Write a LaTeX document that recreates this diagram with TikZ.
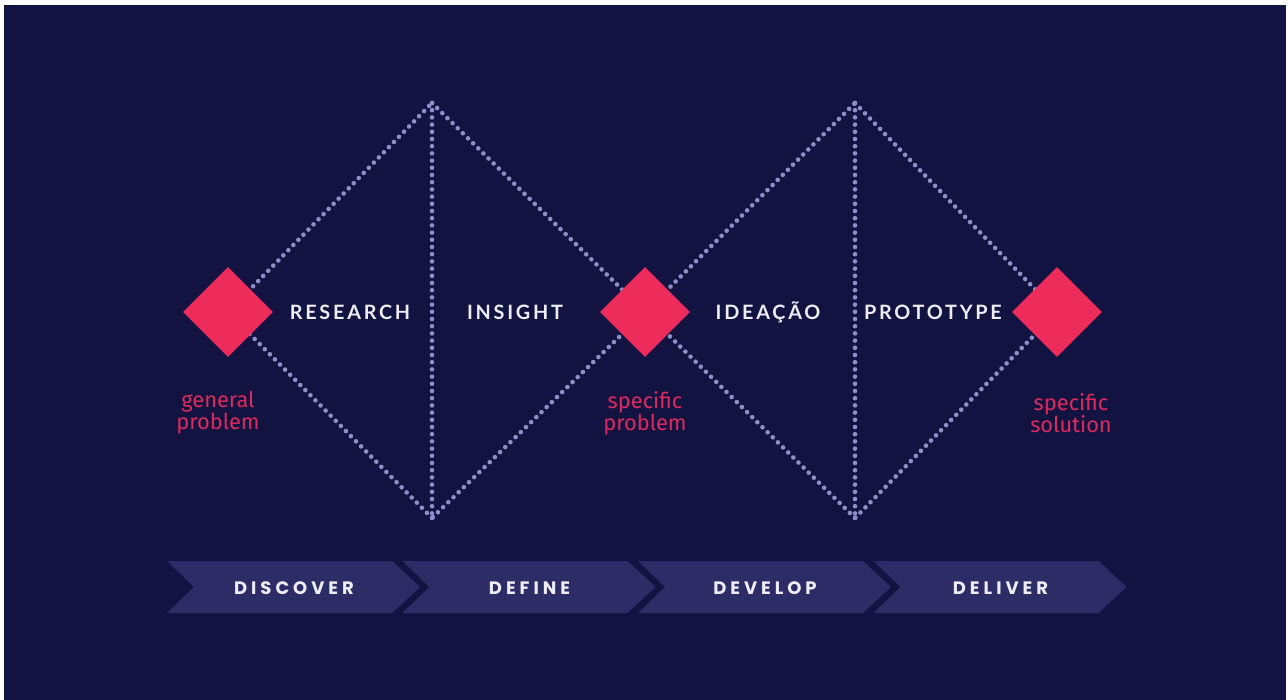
\documentclass[tikz,border=0pt]{standalone}
\usepackage{fontspec}
\usetikzlibrary{shapes.geometric}
\setmainfont{Lato}
\newfontfamily\stagefont[LetterSpace=14]{Lato}
\newfontfamily\chevfont[LetterSpace=22]{Poppins}
\newfontfamily\pinkfont{Fira Sans}
\definecolor{bgnavy}{HTML}{131342}
\definecolor{chevcol}{HTML}{2E2C67}
\definecolor{pinkd}{HTML}{EE2C5B}
\definecolor{pinktxt}{HTML}{DD2A5E}
\definecolor{dotcol}{HTML}{8E8EC8}
\definecolor{txtwhite}{HTML}{EDEDF5}
\tikzset{
  dotline/.style={draw=dotcol, line width=4.6pt, line cap=round, dash pattern=on 0pt off 7.2pt},
  diam/.style={diamond, fill=pinkd, minimum width=90pt, minimum height=90pt, inner sep=0pt, aspect=1},
  stagelbl/.style={text=txtwhite, font=\stagefont\fontsize{19.8}{21}\selectfont\bfseries, anchor=center},
  pinklbl/.style={text=pinktxt, font=\pinkfont\fontsize{21.8}{22}\selectfont, align=center, anchor=center},
  chevlbl/.style={text=txtwhite, font=\chevfont\fontsize{18}{19}\selectfont\bfseries, anchor=center},
  chevshape/.style={fill=chevcol}
}
\begin{document}
\begin{tikzpicture}[x=1pt,y=-1pt]
\useasboundingbox (0,0) rectangle (1288,700);
\fill[white] (0,0) rectangle (1288,700);
\fill[bgnavy] (4,5) rectangle (1286,700);
% key points
\coordinate (c1) at (228,312);
\coordinate (c2) at (645,312);
\coordinate (c3) at (1057,312);
\coordinate (t1) at (432,103);
\coordinate (b1) at (432,518);
\coordinate (t2) at (855,103);
\coordinate (b2) at (855,518);
% dotted double diamond
\path[dotline] (c1) -- (t1);
\path[dotline] (t1) -- (c2);
\path[dotline] (c2) -- (b1);
\path[dotline] (b1) -- (c1);
\path[dotline] (t1) -- (b1);
\path[dotline] (c2) -- (t2);
\path[dotline] (t2) -- (c3);
\path[dotline] (c3) -- (b2);
\path[dotline] (b2) -- (c2);
\path[dotline] (t2) -- (b2);
% diamonds
\node[diam] (d1) at (c1) {};
\node[diam] (d2) at (c2) {};
\node[diam] (d3) at (c3) {};
% stage labels
\node[stagelbl] (research) at (350,312) {RESEARCH};
\node[stagelbl] (insight) at (515,312) {INSIGHT};
\node[stagelbl] (ideacao) at (768,312) {IDEAÇÃO};
\node[stagelbl] (prototype) at (933,312) {PROTOTYPE};
% pink labels
\node[pinklbl] (gp) at (218,413) {general\\problem};
\node[pinklbl] (sp) at (645,413) {specific\\problem};
\node[pinklbl] (ss) at (1071,413) {specific\\solution};
% chevrons
\foreach \i/\lab/\nm in {0/DISCOVER/discover,1/DEFINE/define,2/DEVELOP/develop,3/DELIVER/deliver}{
  \pgfmathsetmacro{\xo}{167+235.5*\i}
  \fill[chevshape] (\xo,561) -- (\xo+225,561) -- (\xo+253,587) -- (\xo+225,613) -- (\xo,613) -- (\xo+27,587) -- cycle;
  \node[chevlbl] (\nm) at (\xo+127,588) {\lab};
}
\end{tikzpicture}
\end{document}
